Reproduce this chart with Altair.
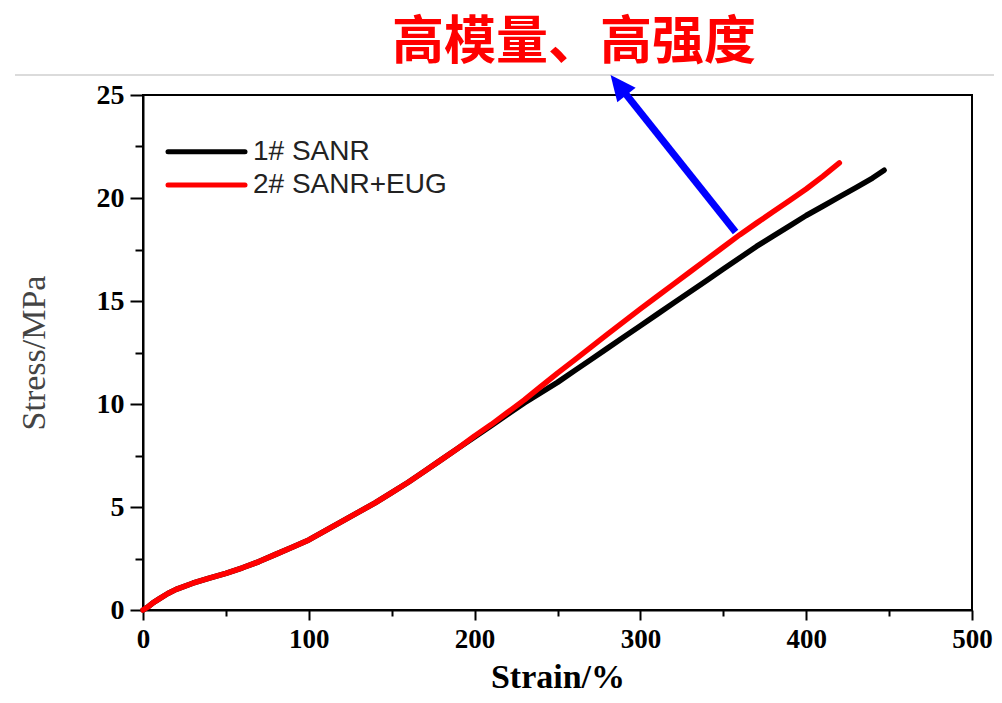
import altair as alt
import pandas as pd

# ---- data ----
strain_1 = [0, 3, 6, 10, 15, 20, 30, 40, 50, 60, 70, 80, 90, 100, 110, 120, 130, 140, 150,
            160, 170, 180, 190, 200, 210, 220, 230, 240, 250, 260, 270, 280, 290, 300, 310,
            320, 330, 340, 350, 360, 370, 380, 390, 400, 410, 420, 430, 440, 447]
stress_1 = [0, 0.15, 0.35, 0.55, 0.8, 1.0, 1.3, 1.55, 1.78, 2.05, 2.35, 2.7, 3.05, 3.4, 3.85,
            4.3, 4.75, 5.2, 5.7, 6.2, 6.75, 7.3, 7.85, 8.4, 8.95, 9.5, 10.05, 10.55, 11.05,
            11.6, 12.15, 12.7, 13.25, 13.8, 14.35, 14.9, 15.45, 16.0, 16.55, 17.1, 17.65,
            18.15, 18.65, 19.15, 19.6, 20.05, 20.5, 20.97, 21.35]

strain_2 = [0, 3, 6, 10, 15, 20, 30, 40, 50, 60, 70, 80, 90, 100, 110, 120, 130, 140, 150,
            160, 170, 180, 190, 200, 210, 220, 230, 240, 250, 260, 270, 280, 290, 300, 310,
            320, 330, 340, 350, 360, 370, 380, 390, 400, 410, 420]
stress_2 = [0, 0.15, 0.35, 0.55, 0.8, 1.0, 1.3, 1.55, 1.78, 2.05, 2.35, 2.7, 3.05, 3.4, 3.85,
            4.3, 4.75, 5.2, 5.7, 6.2, 6.75, 7.3, 7.85, 8.45, 9.0, 9.6, 10.2, 10.85, 11.5,
            12.12, 12.75, 13.38, 14.0, 14.62, 15.22, 15.82, 16.42, 17.02, 17.62, 18.22,
            18.78, 19.33, 19.88, 20.44, 21.05, 21.7]

series_names = ["1# SANR", "2# SANR+EUG"]
series_colors = ["#000000", "#ff0000"]

title_text = "高模量、高强度"
x_title = "Strain/%"
y_title = "Stress/MPa"

x_ticks = list(range(0, 501, 50))
y_ticks = [i * 2.5 for i in range(11)]

# arrow annotation (data coordinates): start on red curve, tip near title
arrow_start = (357.4, 18.35)
arrow_shaft_end = (287.7, 25.40)
arrow_tip = (282.0, 25.97)

df = pd.DataFrame(
    {"strain": strain_1 + strain_2,
     "stress": stress_1 + stress_2,
     "series": [series_names[0]] * len(strain_1) + [series_names[1]] * len(strain_2)}
)

W, H = 829, 515

xscale = alt.Scale(domain=[0, 500], nice=False)
yscale = alt.Scale(domain=[0, 25], nice=False)

x_axis = alt.Axis(
    values=x_ticks,
    labelExpr="datum.value % 100 === 0 ? datum.label : ''",
    tickSize={"condition": {"test": "datum.value % 100 === 0", "value": 10}, "value": 6},
    tickWidth=2, tickColor="black", domainWidth=2, domainColor="black",
    labelFont="Liberation Serif", labelFontWeight="bold", labelFontSize=27,
    labelColor="black", labelPadding=6, labelOverlap=False, labelFlush=False,
    title=x_title, titleFont="Liberation Serif", titleFontWeight="bold",
    titleFontSize=34, titleColor="black", titlePadding=8, grid=False,
)
y_axis = alt.Axis(
    values=y_ticks,
    labelExpr="datum.value % 5 === 0 ? datum.label : ''",
    tickSize={"condition": {"test": "datum.value % 5 === 0", "value": 13}, "value": 8},
    tickWidth=2, tickColor="black", domainWidth=2, domainColor="black",
    labelFont="Liberation Serif", labelFontWeight="bold", labelFontSize=28,
    labelColor="black", labelPadding=6, labelOverlap=False, labelFlush=False,
    title=y_title, titleFont="Liberation Serif", titleFontWeight="normal",
    titleFontSize=34, titleColor="#444444", titleAngle=270,
    titleX=-109, titleY=H / 2, titleAlign="center", titleBaseline="middle",
    grid=False,
)

lines = alt.Chart(df).mark_line(strokeWidth=5.5, strokeCap="round", strokeJoin="round").encode(
    x=alt.X("strain:Q", scale=xscale, axis=x_axis),
    y=alt.Y("stress:Q", scale=yscale, axis=y_axis),
    color=alt.Color("series:N", scale=alt.Scale(domain=series_names, range=series_colors),
                    legend=None),
)

# manual legend
leg_layers = []
leg_y = [56.7, 90.0]
for name, col, ly in zip(series_names, series_colors, leg_y):
    leg_layers.append(
        alt.Chart(pd.DataFrame({"a": [0]})).mark_rule(
            color=col, strokeWidth=5, strokeCap="round"
        ).encode(x=alt.value(25), x2=alt.value(102), y=alt.value(ly))
    )
    leg_layers.append(
        alt.Chart(pd.DataFrame({"t": [name]})).mark_text(
            align="left", baseline="middle", font="Liberation Sans",
            fontSize=28, color="#222222"
        ).encode(x=alt.value(110), y=alt.value(ly), text="t:N")
    )

# title text
title = alt.Chart(pd.DataFrame({"t": [title_text]})).mark_text(
    align="center", baseline="middle", font="Noto Sans CJK SC", fontWeight="bold",
    fontSize=52, color="#ff0000"
).encode(x=alt.value(431), y=alt.value(-52), text="t:N")

# thin gray separator line
sep = alt.Chart(pd.DataFrame({"a": [0]})).mark_rule(color="#cfcfcf", strokeWidth=1.5).encode(
    x=alt.value(-128), x2=alt.value(851), y=alt.value(-20)
)

# arrow
arrow_df = pd.DataFrame({"x": [arrow_start[0]], "y": [arrow_start[1]],
                         "x2": [arrow_shaft_end[0]], "y2": [arrow_shaft_end[1]]})
shaft = alt.Chart(arrow_df).mark_rule(color="#0000ff", strokeWidth=7).encode(
    x=alt.X("x:Q", scale=xscale), y=alt.Y("y:Q", scale=yscale),
    x2="x2:Q", y2="y2:Q",
)
head_df = pd.DataFrame({"x": [arrow_tip[0]], "y": [arrow_tip[1]]})
head = alt.Chart(head_df).mark_point(
    shape="M0,0L0.46,1L-0.46,1Z", size=2600, filled=True, color="#0000ff",
    opacity=1, angle=321.4, strokeWidth=0
).encode(x=alt.X("x:Q", scale=xscale), y=alt.Y("y:Q", scale=yscale))

chart = alt.layer(sep, title, lines, shaft, head, *leg_layers).properties(
    width=W, height=H,
    autosize=alt.AutoSizeParams(type="none"),
    padding={"left": 135, "top": 87, "right": 22, "bottom": 85},
    background="white",
).configure_view(stroke="black", strokeWidth=2)

chart.save("out.html", embed_options={"renderer": "svg", "actions": False})
